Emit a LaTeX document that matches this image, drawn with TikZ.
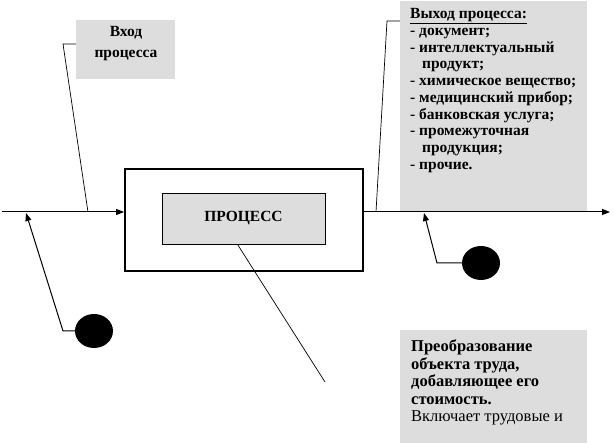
\documentclass[tikz,border=0pt]{standalone}
\usepackage{fontspec}
\setmainfont{Liberation Serif}
\usetikzlibrary{positioning,shapes.geometric,arrows.meta}
\definecolor{boxgray}{HTML}{DDDDDD}

\begin{document}
\begin{tikzpicture}[x=1pt, y=-1pt,
    graybox/.style={rectangle, fill=boxgray, inner sep=0pt},
    txt/.style={font=\fontsize{15.5}{16.7}\selectfont\bfseries, align=left, inner sep=0pt, anchor=north west},
    dot/.style={ellipse, fill=black, minimum width=38pt, minimum height=34pt, inner sep=0pt},
    arrow/.style={-{Triangle[length=8pt, width=6pt]}, line width=1pt, draw=black},
    callout/.style={line width=0.7pt, draw=black}
]
    \useasboundingbox (0,0) rectangle (614,443);

    % Nodes
    \node[rectangle, draw=black, line width=1.8pt, minimum width=238pt, minimum height=102pt] (outer) at (244,220) {};
    \node[graybox, draw=black, line width=0.8pt, minimum width=163pt, minimum height=51pt,
          font=\fontsize{15.5}{16}\selectfont\bfseries] (proc) at (243.5,218.5) {ПРОЦЕСС};
    \node[graybox, minimum width=99pt, minimum height=59pt] (inbox) at (125.5,49.5) {};
    \node[font=\fontsize{15.5}{20.5}\selectfont\bfseries, align=center, inner sep=0pt] (intext) at (126,43.5) {Вход\\процесса};
    \node[graybox, minimum width=187pt, minimum height=210pt] (outbox) at (493.5,106) {};
    \node[txt] (outtext) at (410,8.5) {\underline{Выход процесса:}\\
        - документ;\\
        - интеллектуальный\\
        \hspace*{12pt}продукт;\\
        - химическое вещество;\\
        - медицинский прибор;\\
        - банковская услуга;\\
        - промежуточная\\
        \hspace*{12pt}продукция;\\
        - прочие.};
    \node[graybox, minimum width=187pt, minimum height=113pt] (notebox) at (493.5,386.5) {};
    \node[txt, font=\fontsize{16.5}{17.6}\selectfont] (notetext) at (411,339.5) {\textbf{Преобразование}\\
        \textbf{объекта труда,}\\
        \textbf{добавляющее его}\\
        \textbf{стоимость.}\\
        Включает трудовые и};
    \node[dot] (fbin) at (94,331) {};
    \node[dot] (fbout) at (481,263) {};

    \coordinate (start) at (2,212);
    \coordinate (finish) at (610,212);
    \coordinate (inknee) at (63,44);
    \coordinate (inpoint) at (88,212);
    \coordinate (outknee) at (387,21);
    \coordinate (outpoint) at (376,212);
    \coordinate (procend) at (325,382);
    \coordinate (fbinknee) at (63,331);
    \coordinate (fbinpoint) at (26,213);
    \coordinate (fboutknee) at (437,263);
    \coordinate (fboutpoint) at (424,213);

    % Arrows
    \draw[arrow] (start) -- (start -| outer.west);
    \draw[arrow] (start -| outer.east) -- (finish);
    \draw[arrow] (fbin.west) -- (fbinknee) -- (fbinpoint);
    \draw[arrow] (fbout.west) -- (fboutknee) -- (fboutpoint);

    % Callout lines
    \draw[callout] (inbox.west |- inknee) -- (inknee) -- (inpoint);
    \draw[callout] (outbox.west |- outknee) -- (outknee) -- (outpoint);
    \draw[callout] ([xshift=-6pt]proc.south) -- (procend);
\end{tikzpicture}
\end{document}
